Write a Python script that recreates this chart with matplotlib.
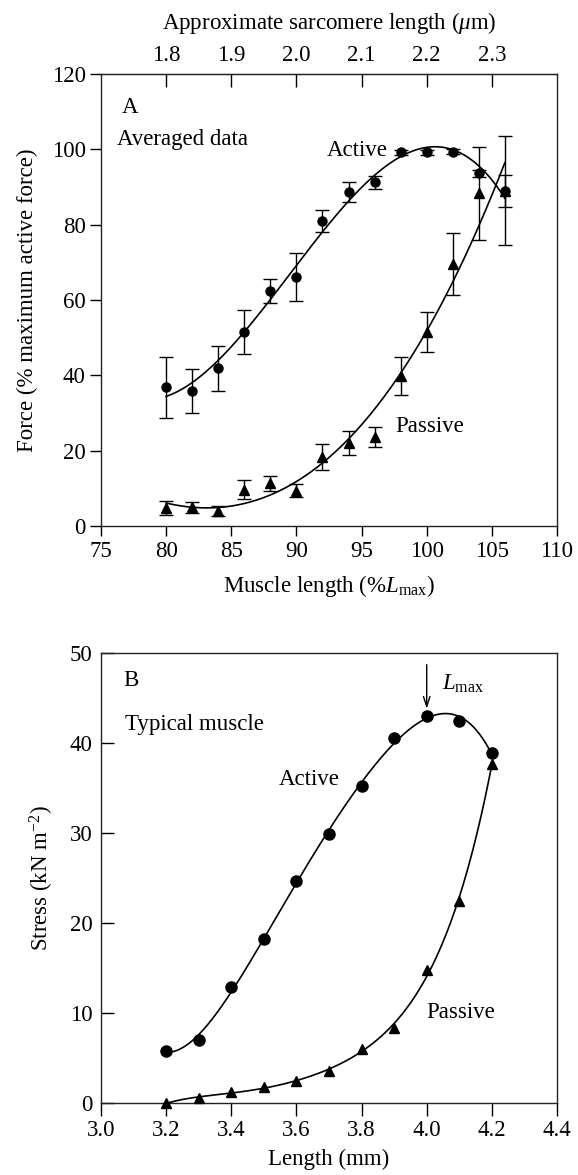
import numpy as np
import matplotlib
matplotlib.use("Agg")
import matplotlib.pyplot as plt

plt.rcParams["font.family"] = ["Liberation Serif", "DejaVu Serif"]
plt.rcParams["mathtext.fontset"] = "custom"
plt.rcParams["mathtext.rm"] = "Liberation Serif"
plt.rcParams["mathtext.it"] = "Liberation Serif:italic"

FONT_SIZE = 16.5

# Panel A: averaged data (% Lmax vs % maximum active force)
A_LENGTH = [80, 82, 84, 86, 88, 90, 92, 94, 96, 98, 100, 102, 104, 106]
A_ACTIVE = [36.8, 35.9, 41.9, 51.5, 62.4, 66.1, 81.0, 88.7, 91.3, 99.2, 99.2, 99.4, 93.6, 89.0]
A_ACTIVE_ERR = [8.0, 5.8, 6.0, 5.8, 3.2, 6.3, 3.0, 2.6, 1.7, 0.7, 0.6, 0.6, 1.0, 14.5]
A_PASSIVE = [4.8, 5.0, 4.0, 9.7, 11.3, 9.4, 18.4, 22.0, 23.7, 39.8, 51.4, 69.6, 88.3, 89.0]
A_PASSIVE_ERR = [1.8, 1.5, 1.2, 2.4, 2.1, 1.7, 3.4, 3.2, 2.6, 5.1, 5.3, 8.3, 12.4, 4.3]
SARC_TICKS = [1.8, 1.9, 2.0, 2.1, 2.2, 2.3]

# Panel B: typical muscle (length in mm vs stress in kN m-2)
B_LENGTH = [3.2, 3.3, 3.4, 3.5, 3.6, 3.7, 3.8, 3.9, 4.0, 4.1, 4.2]
B_ACTIVE = [5.8, 7.0, 12.9, 18.2, 24.7, 29.9, 35.2, 40.6, 43.0, 42.4, 38.9]
B_PASSIVE = [0.0, 0.5, 1.2, 1.8, 2.4, 3.6, 6.0, 8.3, 14.8, 22.4, 37.7]
L_MAX = 4.0


def muscle_to_sarc(x):
    return 1.8 + (x - 80.0) * 0.02


def sarc_to_muscle(s):
    return 80.0 + (s - 1.8) / 0.02


def fit_curve(x, y, deg):
    # least-squares polynomial through the plotted points
    x = np.asarray(x, dtype=float)
    y = np.asarray(y, dtype=float)
    coef = np.polyfit(x, y, deg)
    xs = np.linspace(x.min(), x.max(), 300)
    return xs, np.polyval(coef, xs)


def style_spines(ax):
    for sp in ax.spines.values():
        sp.set_linewidth(1.0)
        sp.set_color("#222222")


def plot_panel_a(ax):
    style_spines(ax)
    ax.errorbar(A_LENGTH, A_PASSIVE, yerr=A_PASSIVE_ERR, fmt="^", color="k",
                ms=6.5, capsize=5, elinewidth=1.0, capthick=1.0, clip_on=False, zorder=3)
    ax.errorbar(A_LENGTH, A_ACTIVE, yerr=A_ACTIVE_ERR, fmt="o", color="k",
                ms=6.5, capsize=5, elinewidth=1.0, capthick=1.0, clip_on=False, zorder=4)

    xs, ys = fit_curve(A_LENGTH, A_ACTIVE, 3)
    ax.plot(xs, ys, color="k", lw=1.2)
    xs, ys = fit_curve(A_LENGTH, A_PASSIVE, 3)
    ax.plot(xs, ys, color="k", lw=1.2)

    ax.set_xlim(75, 110)
    ax.set_ylim(0, 120)
    ax.set_xticks(np.arange(75, 111, 5))
    ax.set_yticks(np.arange(0, 121, 20))
    ax.tick_params(axis="x", direction="out", length=7, width=1.0, labelsize=FONT_SIZE, pad=4)
    ax.tick_params(axis="y", direction="out", length=8, width=1.0, labelsize=FONT_SIZE, pad=3)
    ax.set_xlabel(r"Muscle length (%$L_{\rm max}$)", fontsize=FONT_SIZE, labelpad=8)
    ax.set_ylabel("Force (% maximum active force)", fontsize=FONT_SIZE, labelpad=10)

    top = ax.secondary_xaxis("top", functions=(muscle_to_sarc, sarc_to_muscle))
    top.set_xticks(SARC_TICKS)
    top.set_xticklabels([f"{s:.1f}" for s in SARC_TICKS])
    top.tick_params(direction="in", length=9.5, width=1.0, labelsize=FONT_SIZE, pad=6)
    top.set_xlabel(r"Approximate sarcomere length ($\mu$m)", fontsize=FONT_SIZE, labelpad=11)

    ax.text(76.6, 111.2, "A", fontsize=FONT_SIZE, ha="left", va="center")
    ax.text(76.2, 102.7, "Averaged data", fontsize=FONT_SIZE, ha="left", va="center")
    ax.text(92.3, 99.8, "Active", fontsize=FONT_SIZE, ha="left", va="center")
    ax.text(97.6, 26.3, "Passive", fontsize=FONT_SIZE, ha="left", va="center")


def plot_panel_b(ax):
    style_spines(ax)
    ax.plot(B_LENGTH, B_ACTIVE, "o", color="k", ms=8, clip_on=False, zorder=4)
    ax.plot(B_LENGTH, B_PASSIVE, "^", color="k", ms=7.5, clip_on=False, zorder=4)

    xs, ys = fit_curve(B_LENGTH, B_ACTIVE, 5)
    ax.plot(xs, ys, color="k", lw=1.2)
    xs, ys = fit_curve(B_LENGTH, B_PASSIVE, 5)
    ax.plot(xs, ys, color="k", lw=1.2)

    ax.set_xlim(3.0, 4.4)
    ax.set_ylim(0, 50)
    xt = np.round(np.arange(3.0, 4.41, 0.2), 1)
    ax.set_xticks(xt)
    ax.set_xticklabels([f"{v:.1f}" for v in xt])
    ax.set_yticks(np.arange(0, 51, 10))
    ax.tick_params(axis="x", direction="out", length=9, width=1.0, labelsize=FONT_SIZE, pad=3)
    ax.tick_params(axis="y", direction="in", length=9, width=1.0, labelsize=FONT_SIZE, pad=6)
    ax.set_xlabel("Length (mm)", fontsize=FONT_SIZE, labelpad=6)
    ax.set_ylabel(r"Stress (kN m$^{-2}$)", fontsize=FONT_SIZE, labelpad=10)

    ax.annotate("", xy=(L_MAX, 43.8), xytext=(L_MAX, 48.7),
                arrowprops=dict(arrowstyle="->,head_length=0.4,head_width=0.13",
                                mutation_scale=18, lw=1.0, color="k",
                                shrinkA=0, shrinkB=0))
    ax.text(4.046, 46.6, r"$L_{\rm max}$", fontsize=FONT_SIZE, ha="left", va="center")
    ax.text(3.068, 46.9, "B", fontsize=FONT_SIZE, ha="left", va="center")
    ax.text(3.075, 42.1, "Typical muscle", fontsize=FONT_SIZE, ha="left", va="center")
    ax.text(3.545, 35.9, "Active", fontsize=FONT_SIZE, ha="left", va="center")
    ax.text(4.0, 10.1, "Passive", fontsize=FONT_SIZE, ha="left", va="center")


def main():
    fig = plt.figure(figsize=(5.78, 11.75), dpi=100)
    ax_a = fig.add_axes([0.1747, 0.5523, 0.789, 0.3847])
    ax_b = fig.add_axes([0.1747, 0.0613, 0.789, 0.383])

    plot_panel_a(ax_a)
    plot_panel_b(ax_b)

    fig.savefig("out.png", dpi=100)


if __name__ == "__main__":
    main()
